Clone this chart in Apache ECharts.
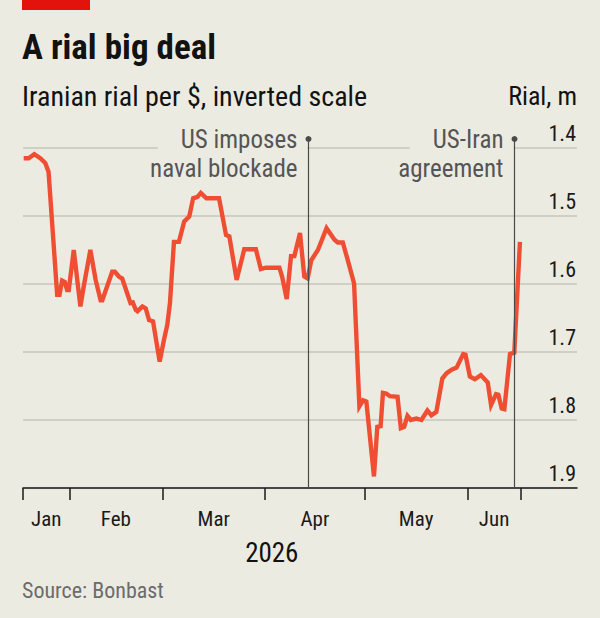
<!DOCTYPE html>
<html><head><meta charset="utf-8">
<script src="https://cdn.jsdelivr.net/npm/echarts@6/dist/echarts.min.js"></script>
<style>html,body{margin:0;padding:0;background:#ecebe2;}#c{width:600px;height:618px;}</style>
</head><body><div id="c"></div>
<script>
// x values are days since 1 Jan 2026 (day 0 = 1 Jan)
const monthNames = ['Jan','Feb','Mar','Apr','May','Jun'];
const monthLabelDays = [24, 45, 74.5, 105, 135.5, 159];
const tickDays = [17, 31, 59, 90, 120, 151, 167];
const yearLabel = '2026';
const days = [17.2,18.7,20.4,22.2,23.7,24.7,27.3,28.0,28.8,29.6,30.3,30.8,32.3,34.3,35.3,37.3,38.9,40.4,40.9,43.9,44.7,45.9,46.9,49.4,50.1,51.0,51.5,53.0,54.0,55.0,56.2,58.2,59.5,60.5,61.3,62.5,64.0,65.6,67.1,68.3,69.6,70.6,72.3,76.1,78.2,79.2,81.4,83.7,87.2,88.7,90.2,94.3,95.1,96.5,97.8,98.8,100.5,101.8,102.8,103.9,105.9,108.5,110.9,111.9,113.4,114.9,116.8,118.4,119.5,120.5,122.8,123.8,124.8,125.5,126.5,127.6,129.9,130.9,131.9,132.9,133.9,135.6,137.1,138.9,140.1,141.6,143.4,144.7,146.2,147.7,149.7,150.4,151.7,153.2,155.0,157.1,158.1,159.6,160.3,161.3,162.1,163.8,165.1,166.8];
const rial = [1.415,1.415,1.409,1.415,1.422,1.435,1.616,1.616,1.595,1.597,1.609,1.609,1.55,1.633,1.604,1.55,1.594,1.624,1.624,1.582,1.582,1.589,1.592,1.628,1.627,1.638,1.64,1.633,1.636,1.653,1.655,1.714,1.682,1.66,1.628,1.538,1.538,1.508,1.501,1.474,1.472,1.466,1.474,1.474,1.528,1.53,1.594,1.549,1.549,1.578,1.576,1.576,1.589,1.622,1.559,1.559,1.525,1.589,1.592,1.565,1.55,1.518,1.535,1.539,1.539,1.565,1.599,1.78,1.771,1.773,1.883,1.81,1.809,1.76,1.761,1.765,1.766,1.812,1.81,1.794,1.8,1.798,1.8,1.786,1.793,1.788,1.739,1.731,1.726,1.723,1.703,1.704,1.736,1.74,1.734,1.745,1.778,1.762,1.763,1.783,1.784,1.703,1.701,1.538];
const eventDays = [103, 165];
const eventLabels = [['US imposes','naval blockade'],['US-Iran','agreement']];

const BG = '#ecebe2';
const FONT = "'Liberation Sans Narrow','Roboto Condensed','DejaVu Sans Condensed',sans-serif";
const chart = echarts.init(document.getElementById('c'), null, {renderer:'svg'});
const lineData = days.map((d,i)=>[d, rial[i]]);
chart.setOption({
  backgroundColor: BG,
  animation: false,
  textStyle: {fontFamily: FONT},
  grid: {left: 23, right: 23, top: 148, bottom: 130, containLabel: false},
  xAxis: {
    type: 'value', min: 17, max: 184,
    axisLine: {show: true, lineStyle: {color: '#1a1a1a', width: 1.5}},
    axisTick: {show: true, length: 12, lineStyle: {color: '#1a1a1a', width: 1.5}, customValues: tickDays},
    axisLabel: {show: true, customValues: monthLabelDays, margin: 20, fontSize: 21, color: '#1a1a1a', fontFamily: FONT,
      formatter: v => { const i = monthLabelDays.indexOf(v); return i >= 0 ? monthNames[i] : ''; }},
    splitLine: {show: false}
  },
  yAxis: {
    type: 'value', inverse: true, min: 1.4, max: 1.9, interval: 0.1, position: 'right',
    axisLine: {show: false}, axisTick: {show: false},
    splitLine: {show: true, lineStyle: {color: '#c6c6bd', width: 1.5}},
    axisLabel: {inside: true, margin: 1, verticalAlign: 'bottom', padding: [0,0,4,0], fontSize: 22, color: '#1a1a1a', fontFamily: FONT,
      formatter: v => v.toFixed(1)}
  },
  series: [{
    type: 'line', data: lineData, showSymbol: false, symbol: 'none',
    lineStyle: {color: '#f04e33', width: 4.4, join: 'miter'}, z: 3
  }]
});

const g = [];
g.push({type:'rect', shape:{x:22,y:0,width:68,height:10}, style:{fill:'#e3120b'}, z:100});
g.push({type:'text', z:100, style:{text:'A rial big deal', x:22, y:47, fontSize:35, fontWeight:'bold', fontFamily:FONT, fill:'#121212', verticalAlign:'middle'}});
g.push({type:'text', z:100, style:{text:'Iranian rial per $, inverted scale', x:22, y:96, fontSize:28, fontFamily:FONT, fill:'#121212', verticalAlign:'middle'}});
g.push({type:'text', z:100, style:{text:'Rial, m', x:577, y:96, fontSize:26, fontFamily:FONT, fill:'#121212', align:'right', verticalAlign:'middle'}});
const midX = chart.convertToPixel({gridIndex:0}, [(tickDays[0]+tickDays[tickDays.length-1])/2, 1.9])[0];
g.push({type:'text', z:100, style:{text:yearLabel, x:midX, y:553, fontSize:27, fontFamily:FONT, fill:'#121212', align:'center', verticalAlign:'middle'}});
g.push({type:'text', z:100, style:{text:'Source: Bonbast', x:22, y:590, fontSize:22, fontFamily:FONT, fill:'#6b6b6b', verticalAlign:'middle'}});
const bottomY = chart.convertToPixel({gridIndex:0}, [17, 1.9])[1];
eventDays.forEach((d, i) => {
  const x = Math.round(chart.convertToPixel({gridIndex:0}, [d, 1.9])[0]) + 0.5;
  g.push({type:'text', z:101, style:{text:eventLabels[i][0], x:x-1, y:139, fontSize:25, fontFamily:FONT, fill:'#555555', align:'right', verticalAlign:'middle', backgroundColor:BG, padding:[0,10,0,23]}});
  g.push({type:'text', z:101, style:{text:eventLabels[i][1], x:x-11, y:168, fontSize:25, fontFamily:FONT, fill:'#555555', align:'right', verticalAlign:'middle'}});
  g.push({type:'line', z:102, shape:{x1:x, y1:139, x2:x, y2:bottomY}, style:{stroke:'#4a4a4a', lineWidth:1.2}});
  g.push({type:'circle', z:102, shape:{cx:x, cy:139, r:3}, style:{fill:'#4a4a4a'}});
});
chart.setOption({graphic: g});
</script>
</body></html>
